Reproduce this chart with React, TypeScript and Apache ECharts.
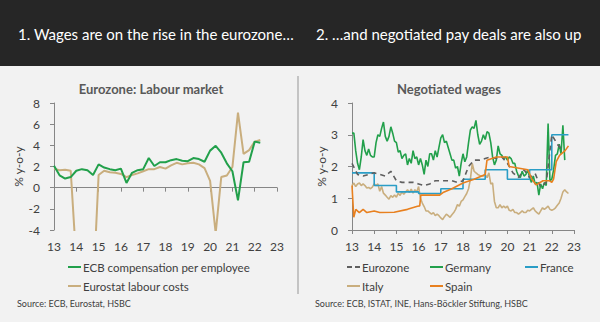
import React, { useEffect, useRef } from "react";
import * as echarts from "echarts";

// ---------- Left chart: Eurozone labour market (quarterly, 2013Q1 -> 2022Q2) ----------
const ecbCompensation = [
  2.06, 1.17, 0.86, 1.0,
  1.6, 1.75, 1.65, 1.2,
  2.2, 1.9, 1.75, 1.65,
  1.8, 0.45, 1.4, 1.65,
  1.75, 2.8, 2.05, 2.4,
  2.4, 2.6, 2.7, 2.55,
  2.5, 2.8, 2.7, 2.45,
  3.5, 3.95, 3.3, 2.3,
  1.55, -1.2, 2.4, 2.45,
  4.35, 4.25,
];
const eurostatLabourCosts = [
  1.8, 1.65, 1.7, 1.6,
  -7, -9, -9, -10,
  1.2, 1.6, 1.45, 1.4,
  1.3, 1.0, 1.2, 1.35,
  1.55, 1.75, 1.75, 1.95,
  1.8, 2.1, 2.35, 2.2,
  2.3, 2.35, 2.2, 1.85,
  0.65, -4.3, 1.0, 1.15,
  1.95, 7.1, 3.2, 3.55,
  4.35, 4.5,
];

// ---------- Right chart: negotiated wages ----------
// Germany, monthly from Jan 2013
const germany = [
  3.05, 3.05, 2.5, 2.1, 1.9, 2.3, 2.85, 2.5, 2.35, 2.55, 2.35, 2.3,
  2.3, 2.75, 3.0, 2.95, 3.2, 3.4, 2.95, 2.8, 2.95, 3.25, 3.05, 2.8,
  2.75, 2.45, 2.5, 2.25, 2.35, 2.4, 2.05, 2.25, 2.1, 2.5, 2.25, 2.3,
  2.05, 2.25, 2.05, 1.75, 2.2, 2.0, 2.4, 2.4, 2.2, 2.5, 2.3, 2.6,
  2.9, 3.0, 2.75, 2.8, 2.6, 2.4, 2.2, 2.2, 1.95, 2.0, 1.7, 2.1,
  2.4, 2.15, 2.3, 2.75, 3.15, 3.25, 3.2, 3.45, 3.0, 2.7, 2.8, 3.0,
  2.85, 3.1, 3.05, 2.75, 2.3, 2.05, 2.2, 2.65, 2.4, 2.35, 2.25, 2.3,
  2.2, 2.3, 2.25, 2.1, 2.1, 1.85, 1.7, 1.65, 1.85, 1.7, 1.75, 1.9,
  1.65, 1.5, 1.7, 1.45, 1.5, 1.1, 1.45, 1.3, 1.5, 1.4, 3.35, 1.55,
  1.6, 1.9, 2.35, 2.4, 2.7, 2.4, 3.3, 2.2,
];
// Italy, monthly from Jan 2013
const italy = [
  1.4, 1.48, 1.37, 1.45, 1.48, 1.4, 1.45, 1.4, 1.32, 1.34, 1.3, 1.35,
  1.45, 1.4, 1.45, 1.22, 1.37, 1.16, 1.1, 1.03, 0.97, 1.08, 1.03, 1.1,
  1.03, 1.16, 1.09, 1.2, 1.13, 1.2, 1.27, 1.18, 1.29, 1.16, 1.27, 1.2,
  1.37, 1.0, 0.85, 0.74, 0.6, 0.6, 0.55, 0.5, 0.55, 0.45, 0.5, 0.45,
  0.38, 0.33, 0.42, 0.5, 0.45, 0.4, 0.48, 0.55, 0.65, 0.8, 0.75, 0.9,
  0.95, 1.05, 1.15, 1.3, 1.6, 2.1, 1.85, 1.8, 1.75, 1.72, 1.7, 1.7,
  1.75, 1.65, 1.8, 1.45, 1.48, 0.9, 0.7, 0.7, 0.8, 0.7, 0.75, 0.7,
  0.75, 0.62, 0.6, 0.65, 0.55, 0.55, 0.5, 0.55, 0.6, 0.55, 0.55, 0.62,
  0.6, 0.65, 0.7, 0.6, 0.55, 0.5, 0.6, 0.7, 0.65, 0.7, 0.75, 0.65,
  0.62, 0.65, 0.7, 0.78, 0.85, 1.0, 1.2, 1.27, 1.2, 1.15,
];
// Spain, readings at dates (year fraction, '13 = 2013)
const spainDates = [
  13.0, 13.08, 13.17, 13.33, 13.5, 13.67, 14.0, 14.25, 14.9, 15.5, 15.95, 16.05, 16.1,
  16.95, 17.1, 17.5, 18.0, 18.5, 19.0, 19.08, 19.5, 20.0, 20.08, 20.92, 21.1, 21.3,
  21.6, 21.9, 22.0, 22.08, 22.2, 22.35, 22.6, 22.75,
];
const spainValues = [
  1.4, 0.4, 0.65, 0.55, 0.65, 0.55, 0.6, 0.55, 0.56, 0.65, 0.75, 0.76, 1.1,
  1.1, 1.18, 1.3, 1.48, 1.6, 1.75, 2.2, 2.3, 2.3, 2.0, 1.9, 1.6, 1.42,
  1.55, 1.55, 1.5, 1.6, 2.15, 2.35, 2.5, 2.65,
];
// Eurozone, quarterly from 2013Q1
const eurozone = [
  2.1, 1.75, 1.7, 1.75,
  1.8, 1.75, 1.7, 1.85,
  1.55, 1.5, 1.5, 1.5,
  1.45, 1.4, 1.45, 1.55,
  1.55, 1.55, 1.55, 1.5,
  1.55, 2.0, 2.2, 2.2,
  2.25, 2.3, 2.25, 2.3,
  2.1, 1.8, 1.65, 1.9,
  1.65, 1.78, 1.35, 1.5,
  3.0, 2.7, 2.5,
];
// France, annual steps
const franceDates = [13, 14, 15, 16, 17, 18, 19, 20, 21, 22, 22.75];
const franceValues = [1.8, 1.4, 1.2, 1.15, 1.3, 1.6, 1.9, 1.6, 1.9, 3.0, 3.0];

const yearTicks = ["13", "14", "15", "16", "17", "18", "19", "20", "21", "22", "23"];

const FONT = "Lato, 'Open Sans', sans-serif";
const C = {
  green: "#22a04b",
  tan: "#c9ae7e",
  blue: "#2a9dc6",
  orange: "#e8801f",
  grey: "#5f5f5f",
  axis: "#868686",
  label: "#404040",
};

const DASH_ICON = "path://M0,0h5v2h-5z M8,0h5v2h-5z";

const quarterly = (vals: number[]) => vals.map((v, i) => [13 + i * 0.25, v]);
const monthly = (vals: number[]) => vals.map((v, i) => [13 + i / 12, v]);
const paired = (xs: number[], ys: number[]) => xs.map((x, i) => [x, ys[i]]);

export default function App() {
  const ref = useRef<HTMLDivElement>(null);
  useEffect(() => {
    if (!ref.current) return;
    const chart = echarts.init(ref.current, null, { renderer: "svg" });
    const xBase = (grid: number) => ({
      gridIndex: grid,
      type: "value" as const,
      min: 13,
      max: 23,
      interval: 1,
      splitLine: { show: false },
    });
    const labelFmt = (v: number) => yearTicks[Math.round(v) - 13] ?? "";
    const yBase = {
      type: "value" as const,
      splitLine: { show: false },
      axisLine: { show: true, lineStyle: { color: C.axis, width: 1 } },
      axisTick: { show: true, length: 4, lineStyle: { color: C.axis } },
      axisLabel: { color: C.label, fontSize: 12, fontFamily: FONT, margin: 14 },
      name: "% y-o-y",
      nameLocation: "middle" as const,
      nameTextStyle: { color: C.label, fontSize: 12, fontFamily: FONT },
    };
    const legendBase = {
      orient: "vertical" as const,
      itemWidth: 13,
      itemHeight: 2,
      itemGap: 7,
      icon: "rect",
      textStyle: { color: C.label, fontSize: 11.5, fontFamily: FONT, padding: [0, 0, 0, -3] },
      selectedMode: false,
    };
    chart.setOption({
      animation: false,
      backgroundColor: "#f2f2f2",
      grid: [
        { left: 54, top: 103, width: 223, height: 127 },
        { left: 352, top: 103, width: 222, height: 127 },
      ],
      xAxis: [
        {
          ...xBase(0),
          axisLine: { show: true, onZero: true, lineStyle: { color: C.axis } },
          axisTick: { show: true, length: 4, lineStyle: { color: C.axis } },
          axisLabel: { show: false },
        },
        {
          ...xBase(0),
          position: "bottom",
          axisLine: { show: false, onZero: false },
          axisTick: { show: false },
          axisLabel: { color: C.label, fontSize: 12, fontFamily: FONT, margin: 10, formatter: labelFmt },
        },
        {
          ...xBase(1),
          axisLine: { show: true, lineStyle: { color: C.axis } },
          axisTick: { show: true, length: 4, lineStyle: { color: C.axis } },
          axisLabel: { color: C.label, fontSize: 12, fontFamily: FONT, margin: 10, formatter: labelFmt },
        },
      ],
      yAxis: [
        { ...yBase, gridIndex: 0, min: -4, max: 8, interval: 2, nameGap: 21 },
        { ...yBase, gridIndex: 1, min: 0, max: 4, interval: 1, nameGap: 25 },
      ],
      legend: [
        { ...legendBase, left: 63, top: 256, data: ["ECB compensation per employee", "Eurostat labour costs"] },
        { ...legendBase, left: 342, top: 256, data: [{ name: "Eurozone", icon: DASH_ICON }, "Italy"] },
        { ...legendBase, left: 425, top: 256, data: ["Germany", "Spain"] },
        { ...legendBase, left: 520, top: 256, data: ["France"] },
      ],
      series: [
        {
          name: "Eurostat labour costs", type: "line", xAxisIndex: 0, yAxisIndex: 0,
          data: quarterly(eurostatLabourCosts), symbol: "none", clip: true,
          lineStyle: { color: C.tan, width: 2 }, itemStyle: { color: C.tan },
        },
        {
          name: "ECB compensation per employee", type: "line", xAxisIndex: 0, yAxisIndex: 0,
          data: quarterly(ecbCompensation), symbol: "none", clip: true,
          lineStyle: { color: C.green, width: 2 }, itemStyle: { color: C.green },
        },
        {
          name: "Italy", type: "line", xAxisIndex: 2, yAxisIndex: 1,
          data: monthly(italy), symbol: "none", clip: true,
          lineStyle: { color: C.tan, width: 1.6 }, itemStyle: { color: C.tan },
        },
        {
          name: "Germany", type: "line", xAxisIndex: 2, yAxisIndex: 1,
          data: monthly(germany), symbol: "none", clip: true,
          lineStyle: { color: C.green, width: 1.6 }, itemStyle: { color: C.green },
        },
        {
          name: "France", type: "line", xAxisIndex: 2, yAxisIndex: 1, step: "end",
          data: paired(franceDates, franceValues), symbol: "none", clip: true,
          lineStyle: { color: C.blue, width: 1.6 }, itemStyle: { color: C.blue },
        },
        {
          name: "Eurozone", type: "line", xAxisIndex: 2, yAxisIndex: 1,
          data: quarterly(eurozone), symbol: "none", clip: true,
          lineStyle: { color: C.grey, width: 1.6, type: [5, 4] }, itemStyle: { color: C.grey },
        },
        {
          name: "Spain", type: "line", xAxisIndex: 2, yAxisIndex: 1,
          data: paired(spainDates, spainValues), symbol: "none", clip: true,
          lineStyle: { color: C.orange, width: 1.6 }, itemStyle: { color: C.orange },
        },
      ],
      graphic: [
        { type: "rect", shape: { x: 0, y: 0, width: 600, height: 66 }, style: { fill: "#262626" }, silent: true },
        {
          type: "text", x: 18, y: 34,
          style: { text: "1. Wages are on the rise in the eurozone…", fill: "#ffffff", fontSize: 15, fontFamily: FONT, verticalAlign: "middle" },
        },
        {
          type: "text", x: 316, y: 34,
          style: { text: "2. …and negotiated pay deals are also up", fill: "#ffffff", fontSize: 15, fontFamily: FONT, verticalAlign: "middle" },
        },
        { type: "rect", shape: { x: 297, y: 76, width: 2, height: 218 }, style: { fill: "#c4c4c4" }, silent: true },
        {
          type: "text", x: 151, y: 89,
          style: { text: "Eurozone: Labour market", fill: "#595959", fontSize: 13, fontWeight: "bold", fontFamily: FONT, align: "center", verticalAlign: "middle" },
        },
        {
          type: "text", x: 449, y: 89,
          style: { text: "Negotiated wages", fill: "#595959", fontSize: 13, fontWeight: "bold", fontFamily: FONT, align: "center", verticalAlign: "middle" },
        },
        {
          type: "text", x: 17, y: 303,
          style: { text: "Source: ECB, Eurostat, HSBC", fill: "#404040", fontSize: 9, fontFamily: FONT, verticalAlign: "middle" },
        },
        {
          type: "text", x: 315, y: 303,
          style: { text: "Source: ECB, ISTAT, INE, Hans-Böckler Stiftung, HSBC", fill: "#404040", fontSize: 9, fontFamily: FONT, verticalAlign: "middle" },
        },
      ],
    });
    return () => chart.dispose();
  }, []);
  return <div ref={ref} style={{ position: "absolute", left: 0, top: 0, width: 600, height: 322 }} />;
}
